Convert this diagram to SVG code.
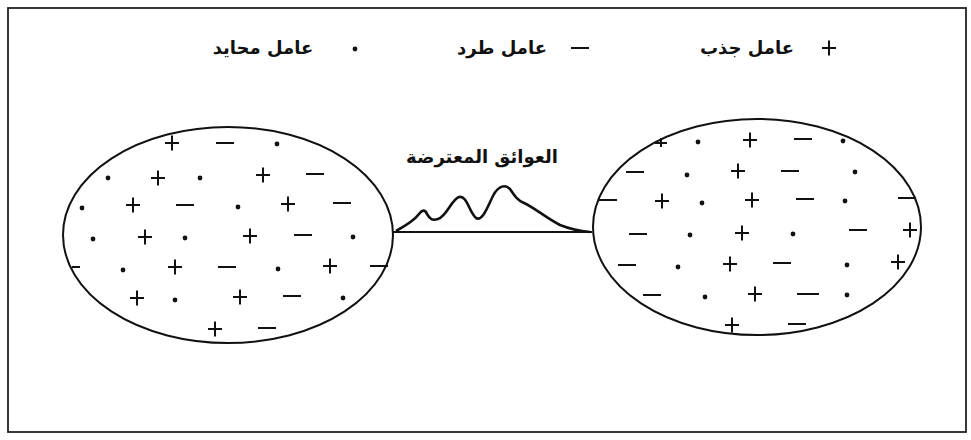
<svg xmlns="http://www.w3.org/2000/svg" xmlns:xlink="http://www.w3.org/1999/xlink" width="971" height="440" viewBox="0 0 971 440">
<style>
.ln{fill:none;stroke:#111;stroke-width:2}
.hill{fill:none;stroke:#111;stroke-width:2.6;stroke-linejoin:round}
.sym{stroke:#111;stroke-width:2;fill:none}
.txt{font-family:"DejaVu Sans",sans-serif;font-weight:bold;font-size:18px;fill:#111;text-anchor:middle}
</style>
<defs>
<path id="p" class="sym" d="M-7,0H7M0,-7.5V7.5"/>
<path id="m" class="sym" d="M-9,0H9" stroke-width="2.4"/>
<circle id="d" r="2.4" fill="#111"/>
</defs>
<rect x="8" y="8" width="958" height="424" fill="#fff" stroke="#222" stroke-width="1.8"/>
<g id="legend">
<use xlink:href="#p" x="829" y="48"/>
<text class="txt" x="747" y="54">عامل جذب</text>
<use xlink:href="#m" x="580" y="48"/>
<text class="txt" x="502" y="54">عامل طرد</text>
<use xlink:href="#d" x="355" y="49"/>
<text class="txt" x="263" y="54">عامل محايد</text>
</g>
<g id="left-group">
<ellipse class="ln" cx="228" cy="235" rx="165" ry="108"/>
<use xlink:href="#p" x="172" y="143"/><use xlink:href="#m" x="225" y="143"/><use xlink:href="#d" x="277" y="144"/>
<use xlink:href="#d" x="108" y="178"/><use xlink:href="#p" x="158" y="178"/><use xlink:href="#d" x="200" y="178"/><use xlink:href="#p" x="263" y="175"/><use xlink:href="#m" x="315" y="174"/>
<use xlink:href="#d" x="82" y="208"/><use xlink:href="#p" x="133" y="205"/><use xlink:href="#m" x="185" y="205"/><use xlink:href="#d" x="238" y="207"/><use xlink:href="#p" x="288" y="204"/><use xlink:href="#m" x="342" y="203"/>
<use xlink:href="#d" x="93" y="239"/><use xlink:href="#p" x="145" y="237"/><use xlink:href="#d" x="185" y="238"/><use xlink:href="#p" x="250" y="236"/><use xlink:href="#m" x="303" y="235"/><use xlink:href="#d" x="353" y="237"/>
<path class="sym" d="M72,267H80"/><use xlink:href="#d" x="123" y="270"/><use xlink:href="#p" x="175" y="267"/><use xlink:href="#m" x="227" y="267"/><use xlink:href="#d" x="278" y="269"/><use xlink:href="#p" x="330" y="266"/><use xlink:href="#m" x="379" y="266"/>
<use xlink:href="#p" x="137" y="298"/><use xlink:href="#d" x="175" y="300"/><use xlink:href="#p" x="240" y="297"/><use xlink:href="#m" x="292" y="296"/><use xlink:href="#d" x="343" y="298"/>
<use xlink:href="#p" x="215" y="329"/><use xlink:href="#m" x="267" y="328"/>
</g>
<g id="right-group">
<ellipse class="ln" cx="757" cy="227" rx="164" ry="108"/>
<path class="sym" d="M655,143H667M661,138V147"/><use xlink:href="#d" x="698" y="142"/><use xlink:href="#p" x="750" y="140"/><use xlink:href="#m" x="803" y="139"/><use xlink:href="#d" x="843" y="141"/>
<use xlink:href="#m" x="635" y="172"/><use xlink:href="#d" x="687" y="175"/><use xlink:href="#p" x="738" y="171"/><use xlink:href="#m" x="790" y="171"/><use xlink:href="#d" x="855" y="172"/>
<use xlink:href="#m" x="608" y="200"/><use xlink:href="#p" x="662" y="201"/><use xlink:href="#d" x="702" y="203"/><use xlink:href="#p" x="752" y="200"/><use xlink:href="#m" x="805" y="199"/><use xlink:href="#d" x="845" y="201"/><use xlink:href="#m" x="907" y="198"/>
<use xlink:href="#m" x="638" y="234"/><use xlink:href="#d" x="690" y="235"/><use xlink:href="#p" x="742" y="233"/><use xlink:href="#d" x="793" y="234"/><use xlink:href="#m" x="858" y="230"/><use xlink:href="#p" x="910" y="230"/>
<use xlink:href="#m" x="627" y="265"/><use xlink:href="#d" x="678" y="267"/><use xlink:href="#p" x="730" y="264"/><use xlink:href="#m" x="782" y="263"/><use xlink:href="#d" x="847" y="265"/><use xlink:href="#p" x="898" y="262"/>
<use xlink:href="#m" x="652" y="295"/><use xlink:href="#d" x="705" y="297"/><use xlink:href="#p" x="755" y="294"/><path class="sym" d="M797,294H819" stroke-width="1.2"/><use xlink:href="#d" x="847" y="295"/>
<use xlink:href="#p" x="732" y="325"/><use xlink:href="#m" x="797" y="324"/>
</g>
<g id="barrier">
<text class="txt" x="482" y="163">العوائق المعترضة</text>
<path class="hill" d="M396,231 C405,226 414,221 419,214 C422,210 425,209 427,214 C430,219 432,221 438,219 C447,216 451,200 459,197 C467,195 469,212 476,218 C483,222 488,205 494,194 C499,186 505,184 510,189 C514,195 517,200 524,203 C535,208 546,218 560,225 C570,229 578,231 590,232"/>
</g>
<g id="connectors">
<path class="ln" d="M393,232H592"/>
</g>
</svg>
